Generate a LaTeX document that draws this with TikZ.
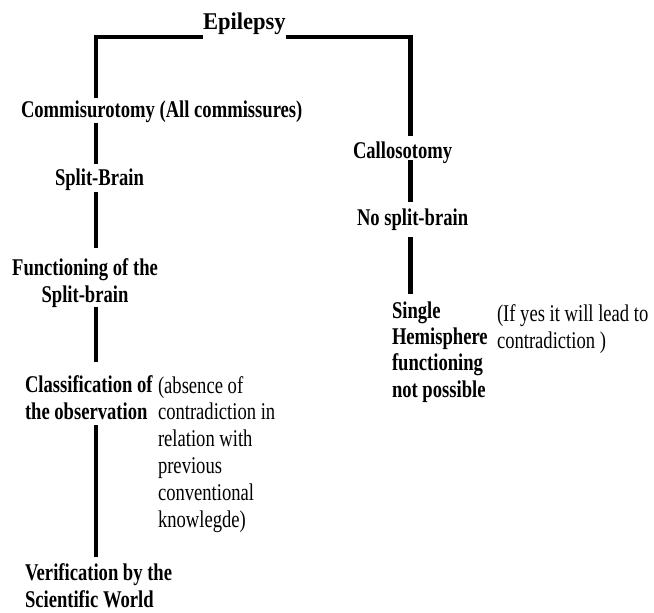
\documentclass[tikz,border=0pt]{standalone}
\usepackage{fontspec}
\setmainfont{Liberation Serif}[FakeStretch=0.775]
\newfontfamily\titlefont{Liberation Serif}[FakeStretch=0.94]
\begin{document}
\begin{tikzpicture}[x=1pt,y=-1pt,
  lbl/.style={inner sep=0pt, outer sep=0pt, font=\fontsize{24}{26.3}\selectfont\bfseries},
  note/.style={inner sep=0pt, outer sep=0pt, font=\fontsize{24}{26.8}\selectfont},
  link/.style={line width=4.2pt, draw=black}]
\useasboundingbox (0,0) rectangle (654,613);
% named reference coordinates
\coordinate (xL) at (96,0);
\coordinate (xR) at (410.5,0);
\coordinate (ytop) at (0,37);
% text nodes (multi-line nodes are placed by the baseline of their last line)
\node[lbl, anchor=base west] (epi) at (203,29.5) {\titlefont\bfseries Epilepsy};
\node[lbl, anchor=base west] (comm) at (21,117) {Commisurotomy (All commissures)};
\node[lbl, anchor=base west] (split) at (55,185) {Split-Brain};
\node[lbl, anchor=base, align=center] (func) at (85,302) {Functioning of the\\Split-brain};
\node[lbl, anchor=base west, align=left] (cls) at (25,419) {Classification of\\the observation};
\node[note, anchor=base west, align=left] (absn) at (158,527) {(absence of\\contradiction in\\relation with\\previous\\conventional\\knowlegde)};
\node[lbl, anchor=base west, align=left] (ver) at (25,607) {Verification by the\\Scientific World};
\node[lbl, anchor=base west] (call) at (353,158) {Callosotomy};
\node[lbl, anchor=base west] (nosp) at (357,225) {No split-brain};
\node[lbl, anchor=base west, align=left] (single) at (392,397) {Single\\Hemisphere\\functioning\\not possible};
\node[note, anchor=base west, align=left] (ifyes) at (497,348) {(If yes it will lead to\\contradiction )};
% connectors
\draw[link, shorten >=2.5pt] (epi.west |- ytop) -| (comm.north -| xL);
\draw[link, shorten >=5pt] (epi.east |- ytop) -| (call.north -| xR);
\draw[link, shorten <=1pt, shorten >=4pt] (comm.south -| xL) -- (split.north -| xL);
\draw[link, shorten <=2pt, shorten >=11pt] (split.south -| xL) -- (func.north -| xL);
\draw[link, shorten >=14pt] (func.south -| xL) -- (cls.north -| xL);
\draw[link, shorten <=6pt, shorten >=7pt] (cls.south -| xL) -- (ver.north -| xL);
\draw[link, shorten <=-3pt, shorten >=6.5pt] (call.south -| xR) -- (nosp.north -| xR);
\draw[link, shorten <=7pt, shorten >=7pt] (nosp.south -| xR) -- (single.north -| xR);
\end{tikzpicture}
\end{document}
